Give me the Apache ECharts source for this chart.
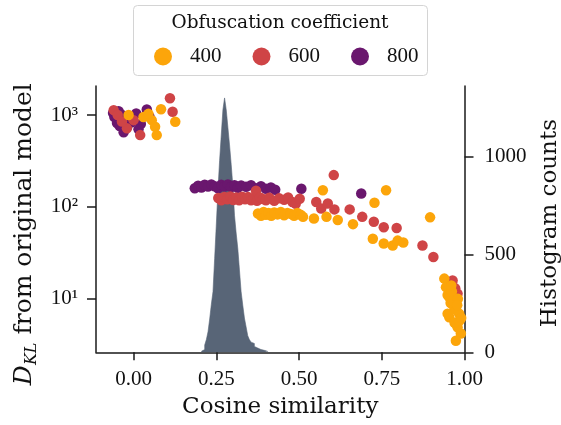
<!DOCTYPE html>
<html>
<head>
<meta charset="utf-8">
<script src="https://cdn.jsdelivr.net/npm/echarts@6/dist/echarts.min.js"></script>
<style>
html,body{margin:0;padding:0;background:#fff;}
#chart{width:561px;height:425px;}
</style>
</head>
<body>
<div id="chart"></div>
<script>
// ---- data ----
const seriesNames = ['400', '600', '800'];
const seriesColors = ['#fca50a', '#cf4446', '#6a176e'];

// Obfuscation coefficient 400: [cosine similarity, D_KL]
const points400 = [
  [-0.015,1000],[0.055,880],[0.065,745],[0.07,605],[0.083,1154],[0.126,845],[0.03,950],[0.045,1030],
  [0.376,85],[0.385,80],[0.393,88],[0.40,82],[0.408,86],[0.416,80],[0.425,87],[0.435,83],[0.445,88],
  [0.455,81],[0.465,86],[0.475,84],[0.485,80],[0.495,86],[0.505,82],[0.512,78],
  [0.545,75],[0.572,152],[0.583,78],[0.617,72],[0.663,65],[0.723,45],[0.728,111],[0.756,40],
  [0.763,152],[0.783,38],[0.798,43],[0.815,41],[0.896,77],
  [0.939,16.6],[0.944,13.4],[0.949,11],[0.954,10.4],[0.958,9],[0.962,12],[0.969,8.1],[0.954,6.3],
  [0.949,6.9],[0.984,6.9],[0.975,7.5],[0.989,4.2],[0.974,3.5],[0.979,4.9],[0.97,5.5],[0.985,5.8],
  [0.965,9.5],[0.96,14],[0.98,10],[0.978,8.5],[0.99,6.2]
];
// Obfuscation coefficient 600
const points600 = [
  [-0.06,1130],[-0.048,1000],[-0.02,716],[0.02,605],[0.11,1520],[0.118,1087],[0.0,880],[-0.035,850],
  [0.256,125],[0.265,118],[0.274,128],[0.283,121],[0.292,130],[0.301,119],[0.31,127],[0.319,118],
  [0.328,129],[0.337,121],[0.346,128],[0.355,118],[0.364,125],[0.37,150],[0.373,117],[0.382,127],
  [0.391,122],[0.40,118],[0.41,126],[0.425,117],[0.44,124],[0.455,120],[0.467,127],[0.48,113],
  [0.49,108],[0.502,123],
  [0.552,113],[0.567,96],[0.587,109],[0.605,222],[0.607,94],[0.653,94],[0.691,78],[0.726,69],
  [0.756,60],[0.795,59],[0.873,38],[0.906,28.5],
  [0.964,15.8],[0.979,11.4],[0.964,8.9],[0.955,14.5],[0.972,13]
];
// Obfuscation coefficient 800
const points800 = [
  [-0.062,1050],[-0.058,950],[-0.05,820],[-0.042,760],[-0.03,650],[-0.022,900],[-0.008,830],
  [0.008,1040],[0.022,800],[0.04,1150],[0.048,960],[0.015,700],[-0.045,1100],[-0.035,1000],
  [0.185,160],[0.195,170],[0.205,163],[0.215,174],[0.225,167],[0.235,176],[0.245,168],[0.255,160],
  [0.265,174],[0.275,167],[0.285,176],[0.295,165],[0.305,172],[0.315,162],[0.325,171],[0.34,166],
  [0.355,172],[0.37,160],[0.385,168],[0.40,158],[0.415,163],[0.428,154],
  [0.507,158],[0.688,140]
];

// Histogram of cosine similarity: left bin edges and counts (bin width 0.005)
const histEdges = [0.205,0.21,0.215,0.22,0.225,0.23,0.235,0.24,0.245,0.25,0.255,0.26,0.265,0.27,0.275,
  0.28,0.285,0.29,0.295,0.30,0.305,0.31,0.315,0.32,0.325,0.33,0.335,0.34,0.345,0.35,0.355,0.36,
  0.365,0.37,0.375,0.38,0.385,0.39,0.395,0.40,0.405];
const histCounts = [5,14,37,65,105,170,245,310,480,650,830,980,1110,1240,1300,
  1240,1150,1060,960,850,700,610,530,420,310,240,175,130,85,65,52,45,
  30,22,18,14,12,10,8,5,0];

const xTicks = [0, 0.25, 0.5, 0.75, 1.0];
const xTickLabels = ['0.00', '0.25', '0.50', '0.75', '1.00'];
const yLeftTicks = [10, 100, 1000];
const yLeftTickLabels = ['10\u00B9', '10\u00B2', '10\u00B3'];
const yRightTicks = [0, 500, 1000];
const yRightTickLabels = ['0', '500', '1000'];

// ---- chart ----
const serif = 'DejaVu Serif';
const numFont = 'Liberation Serif';
const axisColor = '#1a1a1a';

const chart = echarts.init(document.getElementById('chart'), null, {renderer: 'canvas'});

function labelFor(ticks, labels, v, isLog) {
  for (let i = 0; i < ticks.length; i++) {
    const a = isLog ? Math.log10(ticks[i]) : ticks[i];
    const b = isLog ? Math.log10(v) : v;
    if (Math.abs(a - b) < 1e-6) return labels[i];
  }
  return '';
}

const histData = histEdges.map((e, i) => [e, histCounts[i]]);
const scatterSets = [points400, points600, points800];

const series = [{
  type: 'line',
  name: 'hist',
  xAxisIndex: 0,
  yAxisIndex: 1,
  data: histData,
  step: 'end',
  symbol: 'none',
  lineStyle: {width: 0.6, color: '#586577'},
  areaStyle: {color: '#586577', opacity: 1},
  z: 1,
  silent: true
}];
// draw 800 first, then 600, then 400 on top
[2, 1, 0].forEach((k, order) => {
  series.push({
    type: 'scatter',
    name: seriesNames[k],
    xAxisIndex: 0,
    yAxisIndex: 0,
    data: scatterSets[k],
    symbol: 'circle',
    symbolSize: 10.5,
    itemStyle: {color: seriesColors[k], opacity: 1},
    z: 3 + order
  });
});

const option = {
  animation: false,
  backgroundColor: '#fff',
  grid: {left: 96, right: 96.5, top: 86, bottom: 72.7, containLabel: false, outerBoundsMode: 'none'},
  legend: {
    data: seriesNames.map((n, i) => ({name: n, itemStyle: {color: seriesColors[i]}})),
    left: 149,
    top: 41,
    icon: 'circle',
    itemWidth: 18,
    itemHeight: 18,
    itemGap: 31,
    textStyle: {fontFamily: numFont, fontSize: 21, color: '#111', padding: [0, 0, 0, 13]},
    z: 10
  },
  graphic: [
    {
      type: 'rect',
      shape: {x: 133.5, y: 5.5, width: 294, height: 70, r: 4},
      style: {fill: '#fff', stroke: '#d4d4d4', lineWidth: 1},
      z: 5
    },
    {
      type: 'text',
      x: 280,
      y: 23,
      style: {
        text: 'Obfuscation coefficient',
        fontFamily: serif,
        fontSize: 18.5,
        fill: '#111',
        textAlign: 'center',
        textVerticalAlign: 'middle'
      },
      z: 11
    }
  ],
  xAxis: {
    type: 'value',
    min: -0.1135,
    max: 1.0,
    name: 'Cosine similarity',
    nameLocation: 'middle',
    nameGap: 43,
    nameTextStyle: {fontFamily: serif, fontSize: 23, color: '#111'},
    axisLine: {show: true, onZero: false, lineStyle: {color: axisColor, width: 1.5}},
    axisTick: {show: true, length: 8, customValues: xTicks, lineStyle: {color: axisColor, width: 1.5}},
    axisLabel: {
      customValues: xTicks,
      margin: 17,
      fontFamily: numFont,
      fontSize: 21,
      color: '#111',
      formatter: v => labelFor(xTicks, xTickLabels, v, false)
    },
    splitLine: {show: false}
  },
  yAxis: [
    {
      type: 'log',
      logBase: 10,
      min: 2.62,
      max: 2070,
      position: 'left',
      name: '{d|D}{k|KL} from original model',
      nameLocation: 'middle',
      nameRotate: 90,
      nameGap: 52,
      nameTextStyle: {
        fontFamily: serif, fontSize: 25, color: '#111',
        padding: [0, 30, 0, 0],
        rich: {
          d: {fontFamily: serif, fontStyle: 'italic', fontSize: 25, color: '#111'},
          k: {fontFamily: serif, fontStyle: 'italic', fontSize: 16, color: '#111', padding: [15, 0, 0, 0]}
        }
      },
      axisLine: {show: true, onZero: false, lineStyle: {color: axisColor, width: 1.5}},
      axisTick: {show: true, length: 9, customValues: yLeftTicks, lineStyle: {color: axisColor, width: 1.5}},
      axisLabel: {
        customValues: yLeftTicks,
        margin: 18,
        fontFamily: numFont,
        fontSize: 21,
        color: '#111',
        formatter: v => labelFor(yLeftTicks, yLeftTickLabels, v, true)
      },
      splitLine: {show: false},
      minorTick: {show: false}
    },
    {
      type: 'value',
      min: 0,
      max: 1361,
      position: 'right',
      name: 'Histogram counts',
      nameLocation: 'middle',
      nameRotate: 90,
      nameGap: 74,
      nameTextStyle: {fontFamily: serif, fontSize: 23, color: '#111', padding: [0, 8, 0, 0]},
      axisLine: {show: true, onZero: false, lineStyle: {color: axisColor, width: 1.5}},
      axisTick: {show: true, length: 9, customValues: yRightTicks, lineStyle: {color: axisColor, width: 1.5}},
      axisLabel: {
        customValues: yRightTicks,
        margin: 20,
        fontFamily: numFont,
        fontSize: 21,
        color: '#111',
        formatter: v => labelFor(yRightTicks, yRightTickLabels, v, false)
      },
      splitLine: {show: false}
    }
  ],
  series: series
};

chart.setOption(option);
</script>
</body>
</html>
